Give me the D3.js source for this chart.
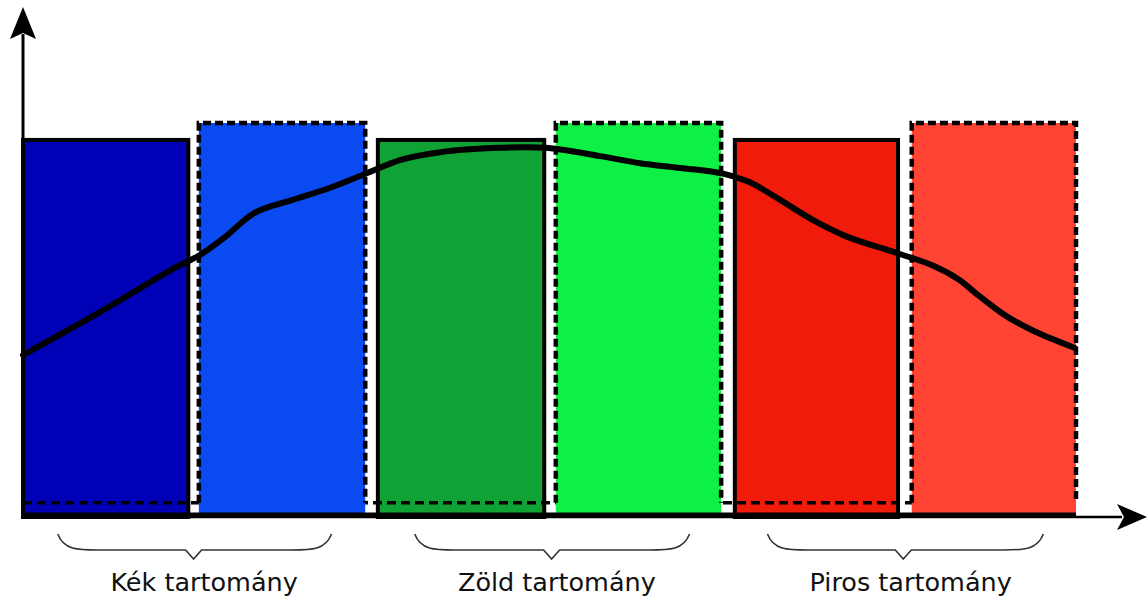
<!DOCTYPE html>
<html><head><meta charset="utf-8">
<script src="https://cdn.jsdelivr.net/npm/d3@7"></script>
<style>html,body{margin:0;padding:0;background:#fff;}svg{display:block;}</style>
</head><body>
<script>
// ---- data ----
const barNames = ["Kék 1", "Kék 2", "Zöld 1", "Zöld 2", "Piros 1", "Piros 2"];
const barStart = [0, 16.7, 33.7, 50.6, 67.6, 84.4];
const barEnd   = [15.7, 32.5, 49.5, 66.3, 83.1, 100];
const barTop   = [95.7, 100, 95.7, 100, 95.7, 100];
const barDashed = [false, true, false, true, false, true];
const barColors = ["#0000b6", "#0b49f1", "#10a234", "#0ff044", "#f01b0a", "#ff4434"];

const curveX = [0, 7.3, 14.4, 16.8, 19.2, 22.0, 25.6, 29.1, 32.7, 35.8, 39.6, 45.3, 49.6, 54.8, 58.6, 62.4, 66.2, 67.6, 69.0, 71.9, 75.0, 78.3, 83.0, 86.5, 88.8, 90.8, 93.2, 96.0, 99.9];
const curveY = [41.1, 52.0, 63.2, 66.5, 71.1, 77.2, 80.5, 83.5, 87.3, 90.6, 92.6, 93.7, 93.7, 91.6, 89.8, 88.6, 87.3, 86.3, 85.0, 80.5, 75.4, 71.1, 67.0, 63.7, 60.4, 56.1, 51.3, 47.2, 42.9];

const rangeLabels = ["Kék tartomány", "Zöld tartomány", "Piros tartomány"];
const braceFrom = [3.3, 37.2, 70.7];
const braceEnd = [29.3, 63.3, 96.9];
const braceMid = [16.2, 50.2, 83.6];
const labelMid = [17.2, 50.7, 84.3];
const dashedBase = 3.6;

const W = 1148, H = 598;
const x = d3.scaleLinear().domain([0, 100]).range([23, 1076]);
const y = d3.scaleLinear().domain([0, 100]).range([517, 123]);

const svg = d3.select("body").append("svg").attr("width", W).attr("height", H);

const bars = barNames.map((n, i) => ({n, s: barStart[i], e: barEnd[i], t: barTop[i], dashed: barDashed[i], c: barColors[i]}));

// solid bars
bars.filter(b => !b.dashed).forEach(b => {
  svg.append("rect")
    .attr("x", x(b.s)).attr("y", y(b.t))
    .attr("width", x(b.e) - x(b.s)).attr("height", y(0) - y(b.t))
    .attr("fill", b.c).attr("stroke", "#000").attr("stroke-width", 4);
});

// dashed base line
svg.append("line")
  .attr("x1", x(0)).attr("x2", x(100))
  .attr("y1", y(dashedBase)).attr("y2", y(dashedBase))
  .attr("stroke", "#000").attr("stroke-width", 3.5).attr("stroke-dasharray", "9,5");

// dashed bars
bars.filter(b => b.dashed).forEach(b => {
  svg.append("rect")
    .attr("x", x(b.s)).attr("y", y(b.t))
    .attr("width", x(b.e) - x(b.s)).attr("height", y(0) - y(b.t))
    .attr("fill", b.c);
  svg.append("path")
    .attr("d", `M${x(b.s)},${y(dashedBase)}V${y(b.t)}H${x(b.e)}V${y(dashedBase)}`)
    .attr("fill", "none").attr("stroke", "#000").attr("stroke-width", 4.5)
    .attr("stroke-dasharray", "8,4");
});

// baseline (thick) and axis
svg.append("line").attr("x1", x(0)).attr("x2", x(100)).attr("y1", 515).attr("y2", 515)
  .attr("stroke", "#000").attr("stroke-width", 5);
svg.append("line").attr("x1", x(0)).attr("x2", 1122).attr("y1", 517).attr("y2", 517)
  .attr("stroke", "#000").attr("stroke-width", 2.5);
svg.append("path").attr("d", "M1147,517L1117,504L1124,517L1117,530Z").attr("fill", "#000");

svg.append("line").attr("x1", x(0)).attr("x2", x(0)).attr("y1", 517).attr("y2", 34)
  .attr("stroke", "#000").attr("stroke-width", 3);
svg.append("path").attr("d", "M23,7L36,39L23,33L10,39Z").attr("fill", "#000");

// curve
const line = d3.line().x(d => x(d[0])).y(d => y(d[1])).curve(d3.curveCatmullRom.alpha(0.5));
svg.append("path").datum(curveX.map((v, i) => [v, curveY[i]]))
  .attr("d", line).attr("fill", "none").attr("stroke", "#000")
  .attr("stroke-width", 6).attr("stroke-linejoin", "round").attr("stroke-linecap", "round");

// braces and labels
rangeLabels.forEach((lab, i) => {
  const a = x(braceFrom[i]), b = x(braceEnd[i]), m = x(braceMid[i]);
  const top = 534, hy = 550, tip = 559;
  const d = `M${a},${top} C${a + 6},${hy} ${a + 20},${hy} ${a + 40},${hy} L${m - 8},${hy} L${m},${tip} L${m + 8},${hy} L${b - 40},${hy} C${b - 20},${hy} ${b - 6},${hy} ${b},${top}`;
  svg.append("path").attr("d", d).attr("fill", "none").attr("stroke", "#333").attr("stroke-width", 1.6);
  svg.append("text").attr("x", x(labelMid[i])).attr("y", 591)
    .attr("text-anchor", "middle")
    .attr("font-family", "DejaVu Sans, sans-serif").attr("font-size", 25.5)
    .attr("fill", "#111").text(lab);
});
</script>
</body></html>
